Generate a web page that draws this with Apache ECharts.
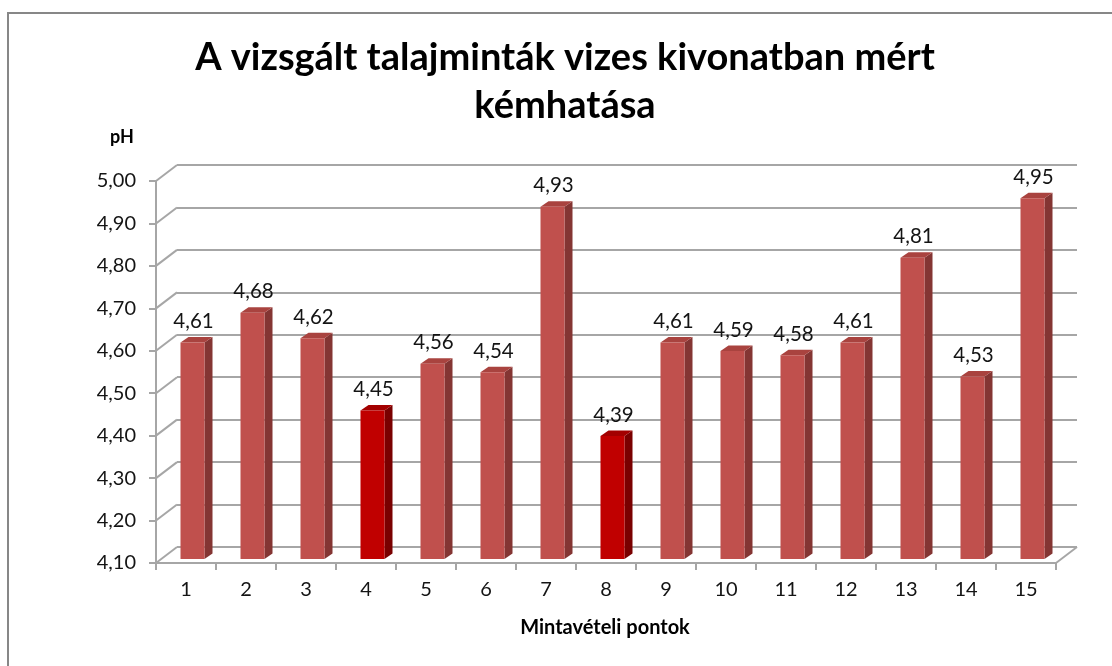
<!DOCTYPE html>
<html>
<head>
<meta charset="utf-8">
<script src="https://cdn.jsdelivr.net/npm/echarts@6/dist/echarts.min.js"></script>
<style>
html,body{margin:0;padding:0;background:#ffffff;}
#chart{width:1112px;height:666px;}
</style>
</head>
<body>
<div id="chart"></div>
<script>
// ---- data ----
const categories = ['1','2','3','4','5','6','7','8','9','10','11','12','13','14','15'];
const phValues = [4.61, 4.68, 4.62, 4.45, 4.56, 4.54, 4.93, 4.39, 4.61, 4.59, 4.58, 4.61, 4.81, 4.53, 4.95];
const highlightedPoints = ['4', '8'];
const yTicks = [4.10, 4.20, 4.30, 4.40, 4.50, 4.60, 4.70, 4.80, 4.90, 5.00];
const titleLines = ['A vizsgált talajminták vizes kivonatban mért', 'kémhatása'];
const yAxisTitle = 'pH';
const xAxisTitle = 'Mintavételi pontok';

// ---- style / geometry ----
const FONT = 'Lato, "Open Sans", "DejaVu Sans", sans-serif';
const TEXT_COLOR = '#141414';
const GRID_COLOR = '#a6a6a6';
const DX = 21, DY = -16;             // depth of the 3D floor / back wall
const FRONT = {left: 156, top: 181, width: 900, height: 382};
const BAR_SHIFT = {x: 6.5, y: -4};   // bar front face inside the depth
const BAR_SIDE = {x: 8, y: -5.5};    // bar own depth
const COLORS = {
  normal: {front: '#c0504d', side: '#843533', top: '#a9433f'},
  hl: {front: '#c00000', side: '#7a0000', top: '#a30000'}
};
const yMin = yTicks[0], yMax = yTicks[yTicks.length - 1];
const fmt = v => v.toFixed(2).replace('.', ',');

const chart = echarts.init(document.getElementById('chart'), null, {renderer: 'canvas'});

function renderBar(params, api) {
  const i = api.value(0), v = api.value(1);
  const p = api.coord([i, v]);
  const b = api.coord([i, yMin]);
  const bw = api.size([1, 0])[0] * 0.4;
  const x0 = p[0] - bw / 2 + BAR_SHIFT.x;
  const yT = p[1] + BAR_SHIFT.y, yB = b[1] + BAR_SHIFT.y;
  const c = highlightedPoints.includes(categories[i]) ? COLORS.hl : COLORS.normal;
  const sx = BAR_SIDE.x, sy = BAR_SIDE.y;
  return {
    type: 'group',
    children: [
      {type: 'polygon', shape: {points: [[x0 + bw, yB], [x0 + bw + sx, yB + sy], [x0 + bw + sx, yT + sy], [x0 + bw, yT]]},
       style: {fill: c.side}},
      {type: 'polygon', shape: {points: [[x0, yT], [x0 + bw, yT], [x0 + bw + sx, yT + sy], [x0 + sx, yT + sy]]},
       style: {fill: c.top}},
      {type: 'rect', shape: {x: x0, y: yT, width: bw, height: yB - yT}, style: {fill: c.front}},
      {type: 'text', x: x0 + bw / 2 + 1, y: yT - 21,
       style: {text: fmt(v), align: 'center', verticalAlign: 'middle', font: '20.5px ' + FONT, fill: TEXT_COLOR}}
    ]
  };
}

function renderDepthLines(params, api) {
  const v = api.value(1);
  const p = api.coord([0, v]);
  const cs = params.coordSys;
  const children = [
    {type: 'line', shape: {x1: cs.x, y1: p[1], x2: cs.x + DX, y2: p[1] + DY},
     style: {stroke: GRID_COLOR, lineWidth: 2}}
  ];
  if (v === yMin) {
    children.push({type: 'line', shape: {x1: cs.x + cs.width, y1: p[1], x2: cs.x + cs.width + DX, y2: p[1] + DY},
      style: {stroke: GRID_COLOR, lineWidth: 2}});
  }
  return {type: 'group', children};
}

const option = {
  animation: false,
  backgroundColor: '#ffffff',
  textStyle: {fontFamily: FONT},
  grid: [
    {left: FRONT.left, top: FRONT.top, width: FRONT.width, height: FRONT.height, containLabel: false},
    {left: FRONT.left + DX, top: FRONT.top + DY, width: FRONT.width, height: FRONT.height, containLabel: false}
  ],
  xAxis: [
    {type: 'category', gridIndex: 0, data: categories, boundaryGap: true,
     axisLine: {show: true, lineStyle: {color: GRID_COLOR, width: 2}},
     axisTick: {show: true, interval: 0, length: 7, lineStyle: {color: GRID_COLOR, width: 2}},
     axisLabel: {interval: 0, margin: 17, fontSize: 20, color: TEXT_COLOR, fontFamily: FONT},
     splitLine: {show: false}},
    {type: 'category', gridIndex: 1, data: categories, show: false}
  ],
  yAxis: [
    {type: 'value', gridIndex: 0, min: yMin, max: yMax, interval: 0.1,
     axisLine: {show: true, lineStyle: {color: GRID_COLOR, width: 2}},
     axisTick: {show: true, length: 7, lineStyle: {color: GRID_COLOR, width: 2}},
     axisLabel: {margin: 20, fontSize: 20, color: TEXT_COLOR, fontFamily: FONT, formatter: v => fmt(v)},
     splitLine: {show: false}},
    {type: 'value', gridIndex: 1, min: yMin, max: yMax, interval: 0.1,
     axisLine: {show: false}, axisTick: {show: false}, axisLabel: {show: false},
     splitLine: {show: true, lineStyle: {color: GRID_COLOR, width: 2}}}
  ],
  graphic: [
    {type: 'rect', shape: {x: 8, y: 13, width: 1300, height: 900}, style: {fill: null, stroke: '#878787', lineWidth: 2}, silent: true},
    {type: 'text', x: 565, y: 34, style: {text: titleLines.join('\n'), align: 'center', verticalAlign: 'top',
      font: 'bold 38px ' + FONT, lineHeight: 48, fill: '#000000'}},
    {type: 'text', x: 122, y: 137, style: {text: yAxisTitle, align: 'center', verticalAlign: 'middle',
      font: 'bold 18px ' + FONT, fill: '#000000'}},
    {type: 'text', x: 605, y: 628, style: {text: xAxisTitle, align: 'center', verticalAlign: 'middle',
      font: 'bold 20px ' + FONT, fill: '#000000'}}
  ],
  series: [
    {type: 'custom', name: 'depth', xAxisIndex: 0, yAxisIndex: 0, clip: false, silent: true,
     data: yTicks.map(v => [0, v]), renderItem: renderDepthLines, z: 1},
    {type: 'custom', name: 'pH', xAxisIndex: 0, yAxisIndex: 0, clip: false,
     data: phValues.map((v, i) => [i, v]), renderItem: renderBar, z: 3}
  ]
};
chart.setOption(option);
</script>
</body>
</html>
